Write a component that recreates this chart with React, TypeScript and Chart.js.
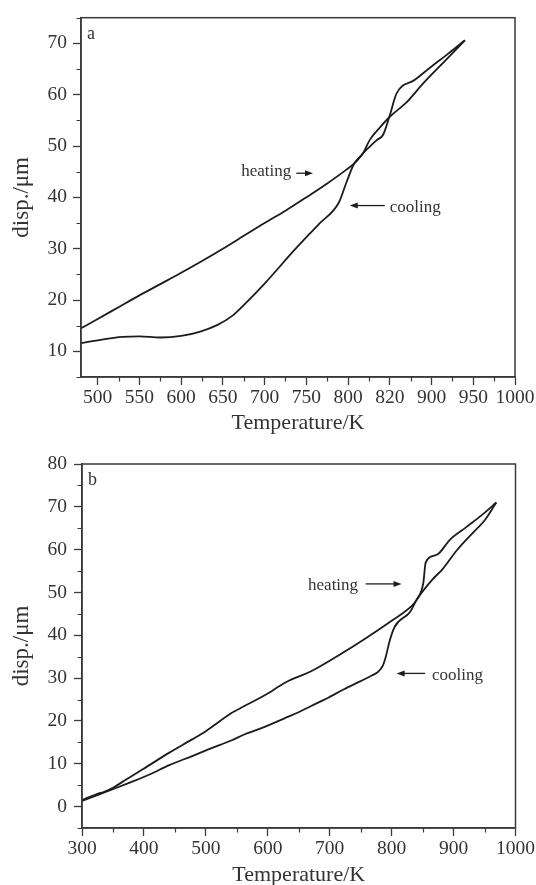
import React, { useEffect, useRef } from 'react';
import { Chart, registerables } from 'chart.js';

Chart.register(...registerables);

// ---------- Panel a data ----------
const heatingA_T = [480, 500, 525, 550, 575, 600, 625, 650, 675, 700, 725, 750, 775, 798, 810, 818, 826, 834, 842, 850, 858, 880, 900, 920, 940];
const heatingA_D = [14.5, 16.3, 18.6, 20.9, 23.1, 25.3, 27.6, 30.0, 32.5, 35.0, 37.4, 40.0, 42.7, 45.4, 47.0, 48.6, 49.9, 51.1, 52.2, 56.0, 60.2, 62.9, 65.5, 68.0, 70.6];
const coolingA_T = [480, 505, 530, 550, 575, 600, 622, 643, 662, 675, 700, 735, 765, 789, 798, 807, 818, 826, 838, 850, 870, 890, 915, 940];
const coolingA_D = [11.6, 12.3, 12.8, 12.9, 12.7, 13.0, 13.8, 15.1, 17.0, 19.0, 23.2, 29.6, 34.8, 39.0, 42.9, 46.5, 48.6, 51.2, 53.6, 55.7, 58.5, 62.2, 66.4, 70.6];

const xTicksA = [500, 550, 600, 650, 700, 750, 800, 850, 900, 950, 1000];
const xLabelsA = ['500', '550', '600', '650', '700', '750', '800', '820', '900', '950', '1000'];
const xMinorA = [525, 575, 625, 675, 725, 775, 825, 875, 925, 975];
const yTicksA = [10, 20, 30, 40, 50, 60, 70];
const yMinorA = [5, 15, 25, 35, 45, 55, 65, 75];

// ---------- Panel b data ----------
const heatingB_T = [300, 325, 335, 350, 372, 398, 441, 478, 500, 542, 560, 595, 630, 670, 712, 754, 800, 832, 840, 851, 855, 873, 894, 920, 945, 969];
const heatingB_D = [1.5, 3.0, 3.4, 4.4, 6.4, 8.7, 12.6, 15.7, 17.6, 21.9, 23.3, 26.0, 29.1, 31.6, 35.1, 38.9, 43.4, 46.8, 48.2, 52.1, 57.0, 58.8, 62.3, 65.2, 68.0, 71.0];
const coolingB_T = [300, 329, 356, 377, 409, 441, 478, 505, 542, 563, 595, 627, 648, 670, 696, 723, 750, 768, 779, 786, 790, 797, 805, 830, 840, 865, 882, 905, 935, 950, 969];
const coolingB_D = [1.3, 2.9, 4.4, 5.6, 7.5, 9.7, 11.8, 13.4, 15.5, 16.9, 18.6, 20.6, 21.9, 23.5, 25.3, 27.4, 29.3, 30.6, 31.6, 33.0, 34.7, 38.8, 42.0, 45.5, 48.2, 52.9, 55.4, 59.8, 64.5, 66.8, 71.0];

const xTicksB = [300, 400, 500, 600, 700, 800, 900, 1000];
const xLabelsB = ['300', '400', '500', '600', '700', '800', '900', '1000'];
const xMinorB = [350, 450, 550, 650, 750, 850, 950];
const yTicksB = [0, 10, 20, 30, 40, 50, 60, 70, 80];
const yMinorB = [-5, 5, 15, 25, 35, 45, 55, 65, 75];

const FONT = '"Liberation Serif", "Times New Roman", Times, serif';
const INK = '#1c1c1c';
const AXIS = '#3a3a3a';
const TEXT = '#333333';

const framePlugin = {
  id: 'frame',
  afterDraw(chart: any, _args: any, opts: any) {
    const { ctx, chartArea } = chart;
    const { left, right, top, bottom } = chartArea;
    const xs = chart.scales.x;
    const ys = chart.scales.y;
    ctx.save();
    ctx.strokeStyle = AXIS;
    ctx.lineWidth = 1.5;
    ctx.strokeRect(left, top, right - left, bottom - top);
    ctx.lineWidth = 1.2;
    ctx.beginPath();
    for (const v of opts.xMinor) {
      const px = Math.round(xs.getPixelForValue(v)) + 0.5;
      ctx.moveTo(px, bottom);
      ctx.lineTo(px, bottom + opts.minorLen);
    }
    for (const v of opts.yMinor) {
      const py = Math.round(ys.getPixelForValue(v)) + 0.5;
      ctx.moveTo(left, py);
      ctx.lineTo(left - opts.minorLen, py);
    }
    ctx.stroke();

    ctx.fillStyle = TEXT;
    ctx.font = `18px ${FONT}`;
    ctx.textAlign = 'left';
    ctx.textBaseline = 'alphabetic';
    ctx.fillText(opts.letter, left + 6, top + 21);

    ctx.font = `17px ${FONT}`;
    ctx.textBaseline = 'middle';
    for (const n of opts.notes) {
      ctx.fillStyle = TEXT;
      ctx.fillText(n.text, xs.getPixelForValue(n.x), ys.getPixelForValue(n.y));
      const x1 = xs.getPixelForValue(n.from);
      const x2 = xs.getPixelForValue(n.to);
      const ay = ys.getPixelForValue(n.ay);
      const dir = Math.sign(x2 - x1);
      ctx.strokeStyle = INK;
      ctx.fillStyle = INK;
      ctx.lineWidth = 1.3;
      ctx.beginPath();
      ctx.moveTo(x1, ay);
      ctx.lineTo(x2 - dir * 5, ay);
      ctx.stroke();
      ctx.beginPath();
      ctx.moveTo(x2, ay);
      ctx.lineTo(x2 - dir * 8, ay - 3);
      ctx.lineTo(x2 - dir * 8, ay + 3);
      ctx.closePath();
      ctx.fill();
    }
    ctx.restore();
  },
};

type PanelSpec = {
  hT: number[]; hD: number[]; cT: number[]; cD: number[];
  xMin: number; xMax: number; yMin: number; yMax: number;
  xTicks: number[]; xLabels: string[]; xMinor: number[];
  yTicks: number[]; yMinor: number[];
  letter: string;
  notes: { text: string; x: number; y: number; from: number; to: number; ay: number }[];
  yAxisW: number; padRight: number; padTop: number; xAxisH: number; yTickPad: number;
};

const panelA: PanelSpec = {
  hT: heatingA_T, hD: heatingA_D, cT: coolingA_T, cD: coolingA_D,
  xMin: 480, xMax: 1000, yMin: 5, yMax: 75,
  xTicks: xTicksA, xLabels: xLabelsA, xMinor: xMinorA, yTicks: yTicksA, yMinor: yMinorA,
  letter: 'a',
  notes: [
    { text: 'heating', x: 672, y: 45.0, from: 738, to: 758, ay: 44.7 },
    { text: 'cooling', x: 850, y: 38.0, from: 844, to: 802, ay: 38.4 },
  ],
  yAxisW: 81, padRight: 21, padTop: 12, xAxisH: 63, yTickPad: 6,
};

const panelB: PanelSpec = {
  hT: heatingB_T, hD: heatingB_D, cT: coolingB_T, cD: coolingB_D,
  xMin: 300, xMax: 1000, yMin: -5, yMax: 80,
  xTicks: xTicksB, xLabels: xLabelsB, xMinor: xMinorB, yTicks: yTicksB, yMinor: yMinorB,
  letter: 'b',
  notes: [
    { text: 'heating', x: 665, y: 51.7, from: 758, to: 816, ay: 52.0 },
    { text: 'cooling', x: 865, y: 30.7, from: 854, to: 808, ay: 31.1 },
  ],
  yAxisW: 82, padRight: 20, padTop: 24, xAxisH: 64, yTickPad: 7,
};

function buildChart(canvas: HTMLCanvasElement, p: PanelSpec) {
  const line = (t: number[], d: number[], label: string) => ({
    label,
    data: t.map((x, i) => ({ x, y: d[i] })),
    borderColor: INK,
    borderWidth: 1.8,
    pointRadius: 0,
    fill: false,
    cubicInterpolationMode: 'monotone' as const,
  });
  return new Chart(canvas, {
    type: 'line',
    data: { datasets: [line(p.hT, p.hD, 'heating'), line(p.cT, p.cD, 'cooling')] },
    options: {
      animation: false,
      responsive: false,
      events: [],
      layout: { padding: { left: 0, right: p.padRight, top: p.padTop, bottom: 0 } },
      plugins: {
        legend: { display: false },
        tooltip: { enabled: false },
        // @ts-ignore
        frame: { xMinor: p.xMinor, yMinor: p.yMinor, minorLen: 4.5, letter: p.letter, notes: p.notes },
      },
      scales: {
        x: {
          type: 'linear',
          position: 'bottom',
          min: p.xMin,
          max: p.xMax,
          afterBuildTicks: (s: any) => { s.ticks = p.xTicks.map((v) => ({ value: v })); },
          afterFit: (s: any) => { s.height = p.xAxisH; },
          ticks: {
            autoSkip: false,
            maxRotation: 0,
            minRotation: 0,
            padding: 1,
            color: TEXT,
            font: { family: FONT, size: 19.5 },
            callback: (v: any) => {
              const i = p.xTicks.indexOf(Number(v));
              return i >= 0 ? p.xLabels[i] : '';
            },
          },
          grid: { display: true, drawOnChartArea: false, drawTicks: true, tickLength: 8, tickColor: AXIS, tickWidth: 1.3 },
          border: { display: true, color: AXIS, width: 1.5 },
          title: { display: true, text: 'Temperature/K', color: TEXT, font: { family: FONT, size: 22 }, padding: { top: 0, bottom: 4 } },
        },
        y: {
          type: 'linear',
          position: 'left',
          min: p.yMin,
          max: p.yMax,
          afterBuildTicks: (s: any) => { s.ticks = p.yTicks.map((v) => ({ value: v })); },
          afterFit: (s: any) => { s.width = p.yAxisW; },
          ticks: {
            autoSkip: false,
            padding: p.yTickPad,
            color: TEXT,
            font: { family: FONT, size: 19.5 },
            callback: (v: any) => String(v),
          },
          grid: { display: true, drawOnChartArea: false, drawTicks: true, tickLength: 8, tickColor: AXIS, tickWidth: 1.3 },
          border: { display: true, color: AXIS, width: 1.5 },
          title: { display: true, text: 'disp./μm', color: TEXT, font: { family: FONT, size: 23 }, padding: { top: 8, bottom: 0 } },
        },
      },
    } as any,
    plugins: [framePlugin as any],
  });
}

export default function App() {
  const refA = useRef<HTMLCanvasElement>(null);
  const refB = useRef<HTMLCanvasElement>(null);
  useEffect(() => {
    const a = buildChart(refA.current!, panelA);
    const b = buildChart(refB.current!, panelB);
    return () => {
      a.destroy();
      b.destroy();
    };
  }, []);
  return (
    <div style={{ position: 'fixed', left: 0, top: 0, width: 536, height: 885, overflow: 'hidden', background: '#fff' }}>
      <canvas ref={refA} width={536} height={440} style={{ position: 'absolute', left: 0, top: 0 }} />
      <canvas ref={refB} width={536} height={452} style={{ position: 'absolute', left: 0, top: 440 }} />
    </div>
  );
}
